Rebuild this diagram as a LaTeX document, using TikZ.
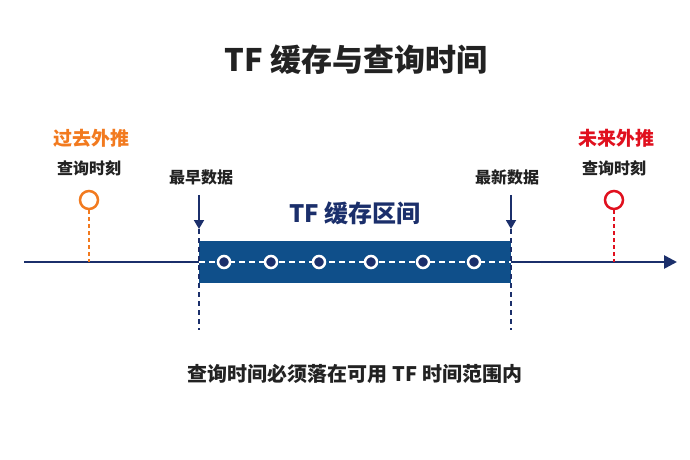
\documentclass[tikz,border=0pt]{standalone}
\usepackage{fontspec}
\setmainfont{Noto Sans CJK SC}
\usetikzlibrary{positioning,arrows.meta}
\definecolor{navy}{HTML}{1B2F6B}
\definecolor{cacheblue}{HTML}{0F4F8A}
\definecolor{pastorange}{HTML}{F27A1F}
\definecolor{futurered}{HTML}{E0101E}
\definecolor{inkgray}{HTML}{222222}

\begin{document}
\begin{tikzpicture}[x=1pt, y=-1pt, inner sep=0pt, node distance=12pt]
\useasboundingbox (0,0) rectangle (690,460);
\node [font=\fontsize{31}{36}\selectfont\bfseries, text=inkgray] (title) at (356,60) {TF 缓存与查询时间};

\coordinate (axisstart) at (24,262);
\coordinate (axisend) at (677,262);
\draw [line width=2.6pt, navy, -{Triangle[length=13pt,width=13pt]}] (axisstart) -- (axisend);

\node [rectangle, fill=cacheblue, minimum width=312pt, minimum height=42pt] (cache) at (355,262) {};
\draw [white, line width=1.5pt, dash pattern=on 6pt off 4pt] (cache.west) -- (cache.east);
\foreach \x [count=\i] in {224,271,319,371,423,474}
  \node [circle, draw=white, fill=navy, line width=2.5pt, minimum size=12pt] (sample\i) at (\x,262) {};
\node [font=\fontsize{24}{28}\selectfont\bfseries, text=navy] (cachelabel) at (355,213) {TF 缓存区间};

\coordinate (earlytop) at (199,229);
\coordinate (earlybottom) at (199,330);
\coordinate (latetop) at (511,229);
\coordinate (latebottom) at (511,330);
\draw [navy, line width=1.8pt, dash pattern=on 5pt off 4pt] (earlytop) -- (earlybottom);
\draw [navy, line width=1.8pt, dash pattern=on 5pt off 4pt] (latetop) -- (latebottom);
\node [font=\fontsize{16}{19}\selectfont\bfseries, text=inkgray] (earlylabel) at (201,177) {最早数据};
\node [font=\fontsize{16}{19}\selectfont\bfseries, text=inkgray] (latelabel) at (507,177) {最新数据};
\draw [navy, line width=1.8pt, -{Triangle[length=9pt,width=10pt]}] ([yshift=-10pt]earlylabel.south -| earlytop) -- (earlytop);
\draw [navy, line width=1.8pt, -{Triangle[length=9pt,width=10pt]}] ([yshift=-10pt]latelabel.south -| latetop) -- (latetop);

\node [circle, draw=pastorange, line width=2.5pt, minimum size=18pt] (pastquery) at (89,200) {};
\node [font=\fontsize{16}{19}\selectfont\bfseries, text=inkgray, above=13pt of pastquery] (pasttime) {查询时刻};
\node [font=\fontsize{19}{23}\selectfont\bfseries, text=pastorange, above=13pt of pasttime, xshift=2pt] (pastlabel) {过去外推};
\coordinate (pastaxis) at (89,262);
\draw [pastorange, line width=1.8pt, dash pattern=on 4pt off 3pt] (pastquery) -- (pastaxis);

\node [circle, draw=futurered, line width=2.5pt, minimum size=18pt] (futurequery) at (614,200) {};
\node [font=\fontsize{16}{19}\selectfont\bfseries, text=inkgray, above=13pt of futurequery] (futuretime) {查询时刻};
\node [font=\fontsize{19}{23}\selectfont\bfseries, text=futurered, above=13pt of futuretime, xshift=2pt] (futurelabel) {未来外推};
\coordinate (futureaxis) at (614,262);
\draw [futurered, line width=1.8pt, dash pattern=on 4pt off 3pt] (futurequery) -- (futureaxis);

\node [font=\fontsize{20}{24}\selectfont\bfseries, text=inkgray] (rule) at (355,374) {查询时间必须落在可用 TF 时间范围内};
\end{tikzpicture}
\end{document}
